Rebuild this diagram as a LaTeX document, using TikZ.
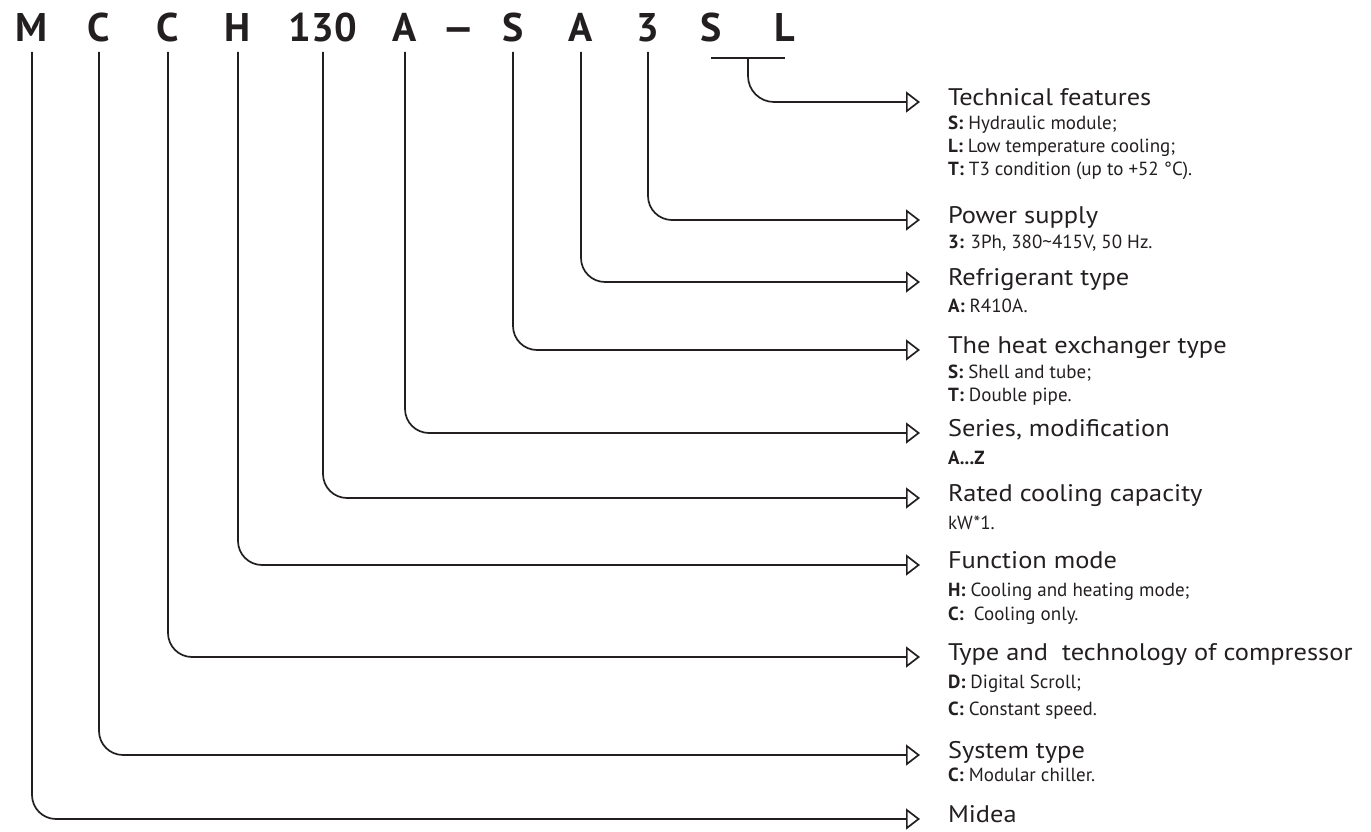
\documentclass[tikz,border=0pt]{standalone}
\usepackage{fontspec}
\setmainfont{PT Sans}
\newfontfamily\ttlfont{PT Sans}[FakeStretch=1.1]
\usetikzlibrary{arrows.meta,calc}
\definecolor{ink}{HTML}{231F20}
\begin{document}
\begin{tikzpicture}[x=1pt,y=-1pt,
  every node/.style={text=ink},
  letter/.style={font=\fontsize{40}{40}\selectfont\bfseries, inner sep=0pt, outer sep=0pt, text height=29pt, text depth=0pt, anchor=south},
  ttl/.style={font=\ttlfont\fontsize{24}{26}\selectfont, inner sep=0pt, outer sep=0pt, text height=0.8em, text depth=0.16em, anchor=west},
  sub/.style={font=\fontsize{19}{22}\selectfont, inner sep=0pt, outer sep=0pt, anchor=base west},
  conn/.style={draw=ink, line width=1.7pt, rounded corners=24pt, -{Triangle[open,length=14pt,width=21pt,line width=1.7pt]}, shorten >=28pt},
]
\useasboundingbox (0,0) rectangle (1371,832);
% code letters
\node[letter] (mM)  at (32,42)  {M};
\node[letter] (mC1) at (99,42)  {C};
\node[letter] (mC2) at (168,42) {C};
\node[letter] (mH)  at (238,42) {H};
\node[letter] (m130) at (323,42) {130};
\node[letter] (mA1) at (405,42) {A};
\node[letter] (mDash) at (459,42) {\scalebox{1.3}[1]{--}};
\node[letter] (mS1) at (513,42) {S};
\node[letter] (mA2) at (581,42) {A};
\node[letter] (m3)  at (648,42) {3};
\node[letter] (mS2) at (711,42) {S};
\node[letter] (mL)  at (785,42) {L};
% titles
\node[ttl] (tTech)   at (948,102) {Technical features};
\node[ttl] (tPower)  at (948,220) {Power supply};
\node[ttl] (tRef)    at (948,282) {Refrigerant type};
\node[ttl] (tHeat)   at (948,350) {The heat exchanger type};
\node[ttl] (tSeries) at (948,433) {Series, modification};
\node[ttl] (tRated)  at (948,498) {Rated cooling capacity};
\node[ttl] (tFunc)   at (948,565) {Function mode};
\node[ttl] (tComp)   at (948,657) {Type and\ \ technology of compressor};
\node[ttl] (tSys)    at (948,755) {System type};
\node[ttl] (tMidea)  at (948,819) {Midea};
% sub lines
\node[sub] (sTech1) at ([yshift=-24pt]tTech.base west) {\textbf{S:} Hydraulic module;};
\node[sub] (sTech2) at ([yshift=-23pt]sTech1.base west) {\textbf{L:} Low temperature cooling;};
\node[sub] (sTech3) at ([yshift=-23pt]sTech2.base west) {\textbf{T:} T3 condition (up to +52 °C).};
\node[sub] (sPow1)  at ([yshift=-25pt]tPower.base west) {\textbf{3:} 3Ph, 380\textasciitilde415V, 50 Hz.};
\node[sub] (sRef1)  at ([yshift=-27pt]tRef.base west) {\textbf{A:} R410A.};
\node[sub] (sHeat1) at ([yshift=-25pt]tHeat.base west) {\textbf{S:} Shell and tube;};
\node[sub] (sHeat2) at ([yshift=-23pt]sHeat1.base west) {\textbf{T:} Double pipe.};
\node[sub] (sSer1)  at ([yshift=-28pt]tSeries.base west) {\textbf{A...Z}};
\node[sub] (sRat1)  at ([yshift=-28pt]tRated.base west) {kW*1.};
\node[sub] (sFun1)  at ([yshift=-28pt]tFunc.base west) {\textbf{H:} Cooling and heating mode;};
\node[sub] (sFun2)  at ([yshift=-24pt]sFun1.base west) {\textbf{C:}\ \ Cooling only.};
\node[sub] (sComp1) at ([yshift=-28pt]tComp.base west) {\textbf{D:} Digital Scroll;};
\node[sub] (sComp2) at ([yshift=-27pt]sComp1.base west) {\textbf{C:} Constant speed.};
\node[sub] (sSys1)  at ([yshift=-23pt]tSys.base west) {\textbf{C:} Modular chiller.};
% bar under S L
\coordinate (barL) at ([yshift=-16pt]mS2.south);
\coordinate (barR) at ([yshift=-16pt]mL.south);
\coordinate (barM) at ($(barL)!0.5!(barR)$);
\draw[draw=ink, line width=2.8pt] (barL) -- (barR);
% connectors
\draw[conn, rounded corners=26pt] (barM) |- (tTech.west);
\draw[conn] ([yshift=-10pt]m3.south)   |- (tPower.west);
\draw[conn] ([yshift=-10pt]mA2.south)  |- (tRef.west);
\draw[conn] ([yshift=-10pt]mS1.south)  |- (tHeat.west);
\draw[conn] ([yshift=-10pt]mA1.south)  |- (tSeries.west);
\draw[conn] ([yshift=-10pt]m130.south) |- (tRated.west);
\draw[conn] ([yshift=-10pt]mH.south)   |- (tFunc.west);
\draw[conn] ([yshift=-10pt]mC2.south)  |- (tComp.west);
\draw[conn] ([yshift=-10pt]mC1.south)  |- (tSys.west);
\draw[conn] ([yshift=-10pt]mM.south)   |- (tMidea.west);
\end{tikzpicture}
\end{document}
